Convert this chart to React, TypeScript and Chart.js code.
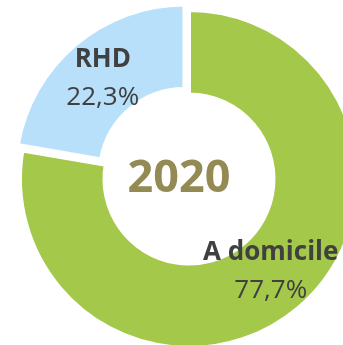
import React, { useEffect, useRef } from "react";
import { Chart, registerables } from "chart.js";

Chart.register(...registerables);

const categories = ["A domicile", "RHD"];
const shares = [77.7, 22.3];
const sliceColors = ["#A3C84A", "#B8E0FA"];
const sliceOffsets = [0, 28];
const centerTitle = "2020";

const FONT = "'Open Sans', sans-serif";

const fmt = (v: number) => v.toFixed(1).replace(".", ",") + "%";

const labelPlugin = {
  id: "sliceLabels",
  afterDatasetsDraw(chart: any) {
    const { ctx } = chart;
    const meta = chart.getDatasetMeta(0);
    // small vertical nudge of each label block
    const lift = [-6, 0];
    ctx.save();
    ctx.textAlign = "center";
    ctx.textBaseline = "alphabetic";
    meta.data.forEach((arc: any, i: number) => {
      const { x, y, startAngle, endAngle, innerRadius, outerRadius } = arc.getProps(
        ["x", "y", "startAngle", "endAngle", "innerRadius", "outerRadius"],
        true
      );
      const mid = (startAngle + endAngle) / 2;
      const r = (innerRadius + outerRadius) / 2 + sliceOffsets[i] / 4;
      const cx = x + Math.cos(mid) * r;
      const cy = y + Math.sin(mid) * r + lift[i];
      ctx.fillStyle = "#404040";
      ctx.font = `bold 26px ${FONT}`;
      ctx.fillText(categories[i], cx, cy - 10);
      ctx.font = `26px ${FONT}`;
      ctx.fillText(fmt(shares[i]), cx, cy + 28);
    });
    // year in the hole
    const a0 = meta.data[0];
    ctx.fillStyle = "#948A54";
    ctx.font = `bold 45px ${FONT}`;
    ctx.fillText(centerTitle, a0.x - 10, a0.y + 13);
    ctx.restore();
  },
};

export default function App() {
  const ref = useRef<HTMLCanvasElement | null>(null);

  useEffect(() => {
    if (!ref.current) return;
    const chart = new Chart(ref.current, {
      type: "doughnut",
      data: {
        labels: categories,
        datasets: [
          {
            data: shares,
            backgroundColor: sliceColors,
            borderColor: "#ffffff",
            borderWidth: 4,
            offset: sliceOffsets,
          },
        ],
      },
      options: {
        responsive: false,
        animation: false,
        cutout: "50%",
        plugins: {
          legend: { display: false },
          tooltip: { enabled: false },
        },
      },
      plugins: [labelPlugin],
    });
    return () => chart.destroy();
  }, []);

  return (
    <div
      style={{
        position: "fixed",
        left: 0,
        top: 0,
        width: 343,
        height: 345,
        overflow: "hidden",
        background: "#ffffff",
      }}
    >
      <canvas
        ref={ref}
        width={370}
        height={370}
        style={{ position: "absolute", left: 4, top: -6, width: 370, height: 370 }}
      />
    </div>
  );
}
